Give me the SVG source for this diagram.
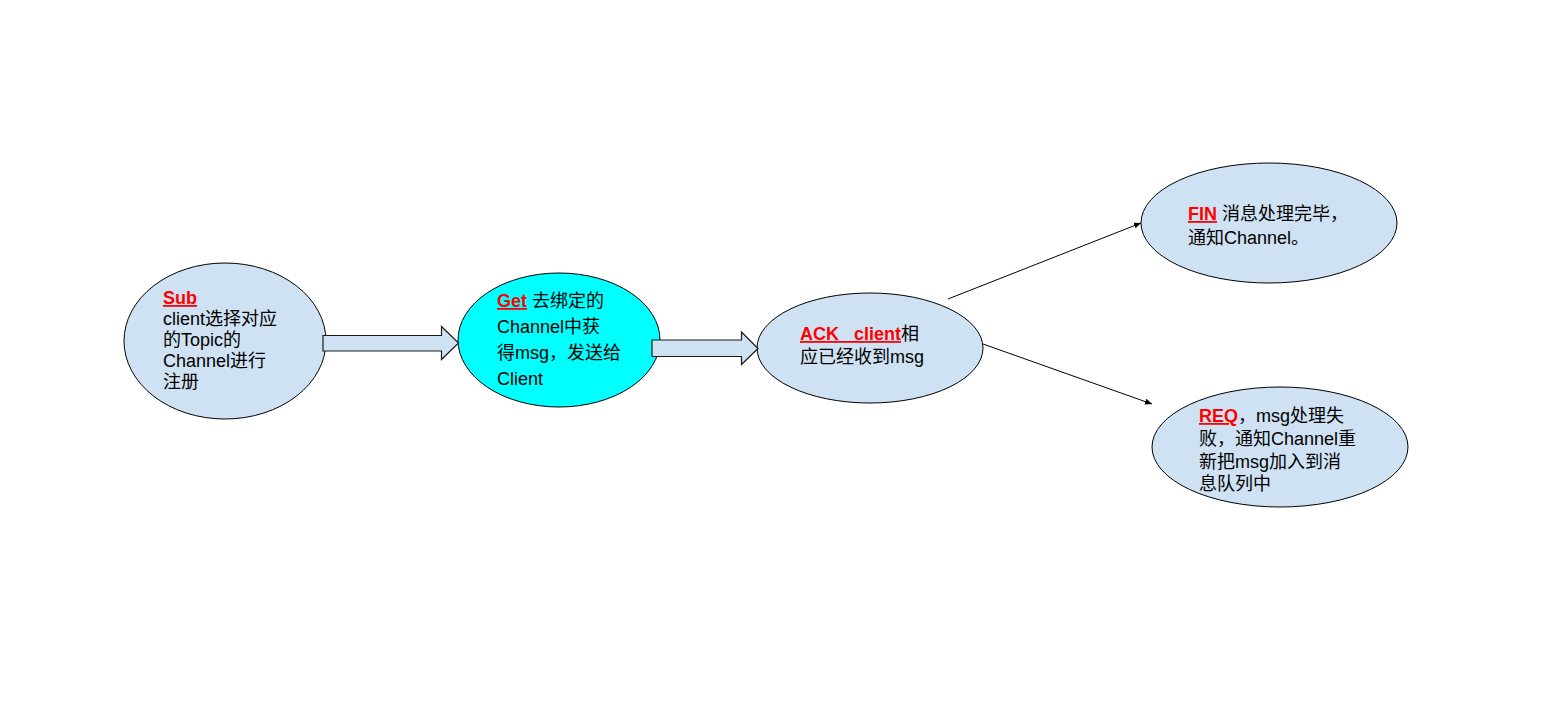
<svg xmlns="http://www.w3.org/2000/svg" width="1546" height="722" viewBox="0 0 1546 722">
<style>
.n{fill:#cfe2f3;stroke:#000;stroke-width:1}
.c{fill:#00ffff;stroke:#000;stroke-width:1}
.b{fill:#cfe2f3;stroke:#1a1a1a;stroke-width:1.2}
.t{font-family:"Liberation Sans","Noto Sans CJK SC",sans-serif;font-size:18px;fill:#000;white-space:pre}
.k{fill:#ff0000;font-weight:bold;text-decoration:underline}
.l{stroke:#000;stroke-width:1;fill:none}
</style>
<defs>
<marker id="ah" markerWidth="8" markerHeight="8" refX="7" refY="4" orient="auto" markerUnits="userSpaceOnUse">
<path d="M0,1 L7,4 L0,7 Z" fill="#000"/>
</marker>
</defs>
<rect width="1546" height="722" fill="#fff"/>
<g id="sub">
<ellipse class="n" cx="225" cy="341" rx="101" ry="78"/>
<text class="t" x="163" y="304"><tspan class="k">Sub</tspan></text>
<text class="t" x="163" y="325">client选择对应</text>
<text class="t" x="163" y="346">的Topic的</text>
<text class="t" x="163" y="367">Channel进行</text>
<text class="t" x="163" y="388">注册</text>
</g>
<g id="get">
<ellipse class="c" cx="559" cy="340" rx="101" ry="67"/>
<text class="t" x="497" y="307"><tspan class="k">Get</tspan> 去绑定的</text>
<text class="t" x="497" y="333">Channel中获</text>
<text class="t" x="497" y="359">得msg，发送给</text>
<text class="t" x="497" y="385">Client</text>
</g>
<g id="ack">
<ellipse class="n" cx="870" cy="348" rx="113" ry="55"/>
<text class="t" x="800" y="340" xml:space="preserve"><tspan class="k">ACK   client</tspan>相</text>
<text class="t" x="800" y="363">应已经收到msg</text>
</g>
<g id="fin">
<ellipse class="n" cx="1269" cy="223" rx="128" ry="60"/>
<text class="t" x="1188" y="220"><tspan class="k">FIN</tspan> 消息处理完毕，</text>
<text class="t" x="1188" y="244">通知Channel。</text>
</g>
<g id="req">
<ellipse class="n" cx="1280" cy="447" rx="128" ry="60"/>
<text class="t" x="1199" y="422"><tspan class="k">REQ</tspan>，msg处理失</text>
<text class="t" x="1199" y="445">败，通知Channel重</text>
<text class="t" x="1199" y="468">新把msg加入到消</text>
<text class="t" x="1199" y="490">息队列中</text>
</g>
<g id="connectors">
<path class="b" d="M323,335.5 L441.5,335.5 L441.5,326.5 L458.5,343 L441.5,359.5 L441.5,351 L323,351 Z"/>
<path class="b" d="M652,340 L741.5,340 L741.5,332 L758,348.5 L741.5,364.5 L741.5,356.5 L652,356.5 Z"/>
<line class="l" x1="948" y1="299" x2="1141" y2="223" marker-end="url(#ah)"/>
<line class="l" x1="983" y1="344" x2="1152" y2="404" marker-end="url(#ah)"/>
</g>
</svg>
